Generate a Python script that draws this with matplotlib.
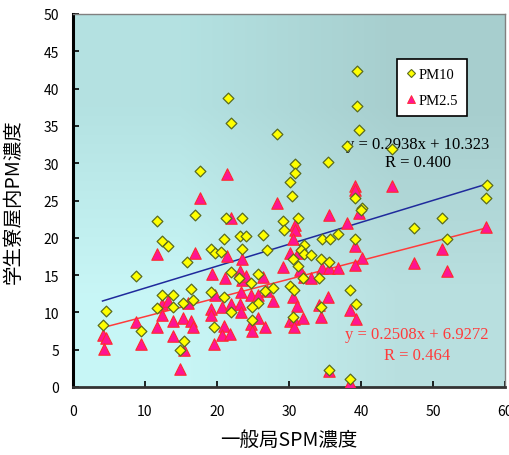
import numpy as np
import matplotlib.pyplot as plt
from matplotlib.lines import Line2D

plt.rcParams['font.family'] = ['Noto Sans CJK JP', 'DejaVu Sans']

# PM10 (x: general station SPM, y: dormitory indoor PM)
pm10_x = [39.4, 39.4, 21.5, 21.9, 28.4, 39.7, 38.0, 44.3, 35.4, 30.8,
          30.8, 30.1, 57.5, 30.4, 39.2, 17.6, 11.6, 17.0, 12.4, 13.2,
          19.2, 19.7, 20.6, 21.0, 15.9, 8.7, 16.4, 19.2, 12.3, 13.9,
          15.3, 16.6, 11.7, 13.9, 4.6, 4.1, 9.5, 19.6, 15.4, 14.8,
          40.2, 40.0, 21.3, 23.5, 29.2, 31.2, 29.3, 23.2, 24.0, 26.4,
          34.6, 35.7, 36.8, 39.2, 23.5, 26.9, 32.1, 31.7, 32.1, 33.1,
          34.5, 35.5, 30.5, 31.2, 25.7, 22.0, 23.1, 24.7, 26.7, 27.8,
          30.1, 30.7, 21.0, 25.7, 24.8, 21.9, 31.9, 34.1, 38.5, 39.3,
          34.4, 30.6, 24.8, 35.5, 38.5, 57.3, 51.3, 47.3, 52.0]
pm10_y = [42.3, 37.7, 38.8, 35.4, 33.9, 34.4, 32.3, 31.9, 30.1, 29.9,
          28.7, 27.5, 27.1, 25.6, 25.3, 28.9, 22.2, 23.0, 19.6, 18.9,
          18.5, 18.0, 18.1, 19.9, 16.7, 14.9, 13.2, 12.8, 12.3, 12.3,
          11.3, 11.6, 10.6, 10.7, 10.2, 8.3, 7.5, 8.0, 6.1, 4.9,
          24.0, 23.7, 22.6, 22.6, 22.3, 22.6, 21.1, 20.3, 20.2, 20.4,
          19.8, 19.9, 20.5, 19.9, 18.5, 18.3, 19.0, 18.3, 17.8, 17.7,
          17.2, 16.8, 17.2, 16.2, 15.2, 15.4, 14.6, 13.9, 12.9, 13.3,
          13.6, 13.0, 12.0, 11.3, 10.7, 10.0, 14.6, 14.6, 13.0, 11.1,
          10.7, 9.4, 9.0, 2.3, 1.1, 25.3, 22.7, 21.3, 19.8]

# PM2.5
pm25_x = [39.2, 39.2, 44.3, 21.4, 17.6, 11.6, 16.9, 19.3, 19.7, 12.4,
          13.2, 16.0, 8.75, 12.3, 13.9, 15.3, 16.4, 16.6, 11.7, 13.9,
          4.1, 4.6, 4.3, 9.5, 15.4, 14.8, 19.2, 19.2, 19.6, 28.4,
          35.5, 39.7, 21.9, 30.8, 30.8, 30.5, 38.1, 39.2, 30.1, 31.2,
          21.4, 23.5, 40.2, 29.2, 34.6, 35.6, 36.8, 39.2, 21.1, 23.2,
          23.5, 24.0, 26.4, 31.5, 32.1, 33.1, 24.7, 25.7, 26.9, 27.8,
          30.5, 31.1, 35.4, 34.1, 34.4, 38.5, 39.3, 20.7, 22.0, 23.2,
          23.3, 25.7, 24.7, 24.9, 26.7, 30.1, 30.7, 30.7, 32.0, 21.0,
          20.7, 21.8, 35.5, 38.5, 57.4, 51.3, 47.3, 52.0, 23.3]
pm25_y = [27.0, 26.4, 26.9, 28.5, 25.3, 17.8, 18.0, 15.1, 12.3, 11.1,
          11.5, 11.2, 8.75, 9.7, 8.8, 9.3, 8.9, 8.0, 8.0, 6.9,
          7.0, 6.6, 5.1, 5.8, 5.0, 2.4, 10.5, 9.6, 5.8, 24.7,
          23.1, 23.3, 22.6, 21.7, 21.0, 19.8, 22.0, 18.9, 18.0, 17.9,
          17.5, 17.2, 17.3, 16.1, 16.0, 15.9, 15.9, 16.3, 14.6, 15.5,
          14.3, 14.9, 14.8, 15.7, 14.8, 14.6, 12.3, 12.3, 12.9, 11.5,
          12.0, 10.9, 12.1, 11.0, 9.4, 10.3, 9.1, 10.7, 11.1, 11.1,
          10.1, 9.2, 8.4, 7.5, 8.1, 8.9, 9.1, 8.1, 9.3, 8.2,
          7.0, 7.1, 2.1, 0.5, 21.4, 18.5, 16.6, 15.5, 12.7]

# regression results shown on the chart
pm10_slope, pm10_icpt, pm10_r = 0.2938, 10.323, 0.400
pm25_slope, pm25_icpt, pm25_r = 0.2508, 6.9272, 0.464

x_ticks = np.arange(0, 61, 10)
y_ticks = np.arange(0, 51, 5)

fig = plt.figure(figsize=(5.10, 4.56), dpi=100)
ax = fig.add_axes([73 / 510, 68 / 456, 432 / 510, 373 / 456])

# gradient background
bg = np.array([[[0.706, 0.886, 0.886], [0.655, 0.808, 0.808]],
               [[0.784, 0.965, 0.965], [0.725, 0.878, 0.878]]])
ax.imshow(bg, extent=[0, 1, 0, 1], transform=ax.transAxes,
          aspect='auto', interpolation='bilinear', zorder=0)

ax.set_xlim(0, 60)
ax.set_ylim(0, 50)

# regression lines
for xs, slope, icpt, col in [(pm10_x, pm10_slope, pm10_icpt, '#1f2a9c'),
                             (pm25_x, pm25_slope, pm25_icpt, '#ff3b3b')]:
    lx = np.array([min(xs), max(xs)])
    ax.plot(lx, slope * lx + icpt, color=col, lw=1.1, zorder=2)

ax.scatter(pm25_x, pm25_y, marker='^', s=68, facecolor='#ff1493',
           edgecolor='#ff2a2a', linewidths=0.8, zorder=3)
ax.scatter(pm10_x, pm10_y, marker='D', s=30, facecolor='#ffff00',
           edgecolor='#5a6b1e', linewidths=0.9, zorder=4)

serif = 'Liberation Serif'
ax.text(47.9, 32.6, 'y = %.4fx + %.3f' % (pm10_slope, pm10_icpt),
        ha='center', va='center', fontsize=12, family=serif, color='black')
ax.text(47.9, 30.2, 'R = %.3f' % pm10_r, ha='center', va='center',
        fontsize=12, family=serif, color='black')
ax.text(47.8, 7.1, 'y = %.4fx + %.4f' % (pm25_slope, pm25_icpt),
        ha='center', va='center', fontsize=12, family=serif, color='#ff3b3b')
ax.text(47.8, 4.3, 'R = %.3f' % pm25_r, ha='center', va='center',
        fontsize=12, family=serif, color='#ff3b3b')

handles = [Line2D([], [], marker='D', ls='none', ms=4.5, mfc='#ffff00',
                  mec='#5a6b1e', mew=0.8),
           Line2D([], [], marker='^', ls='none', ms=6, mfc='#ff1493',
                  mec='#ff2a2a', mew=0.6)]
leg = ax.legend(handles, ['PM10', 'PM2.5'], loc='upper left',
                bbox_to_anchor=(0.75, 0.88), fancybox=False, framealpha=1,
                edgecolor='black', handlelength=0.7, handletextpad=0.2,
                borderpad=0.6, labelspacing=0.9, borderaxespad=0,
                prop={'family': serif, 'size': 10.5})
leg.get_frame().set_linewidth(1.2)
leg.set_zorder(6)

ax.set_xticks(x_ticks)
ax.set_yticks(y_ticks)
ax.tick_params(direction='in', length=4, width=1.2, labelsize=10,
               colors='black')
ax.tick_params(axis='x', pad=12)
ax.tick_params(axis='y', pad=10)

ax.spines['left'].set_linewidth(2.2)
ax.spines['bottom'].set_linewidth(2.0)
ax.spines['bottom'].set_color('#333333')
ax.spines['top'].set_color('#808080')
ax.spines['right'].set_color('#808080')
ax.spines['top'].set_linewidth(1.0)
ax.spines['right'].set_linewidth(1.0)

ax.set_xlabel('一般局SPM濃度', fontsize=14, labelpad=8)
ax.set_ylabel('学生寮屋内PM濃度', fontsize=14, labelpad=14)

fig.savefig('out.png', dpi=100)
